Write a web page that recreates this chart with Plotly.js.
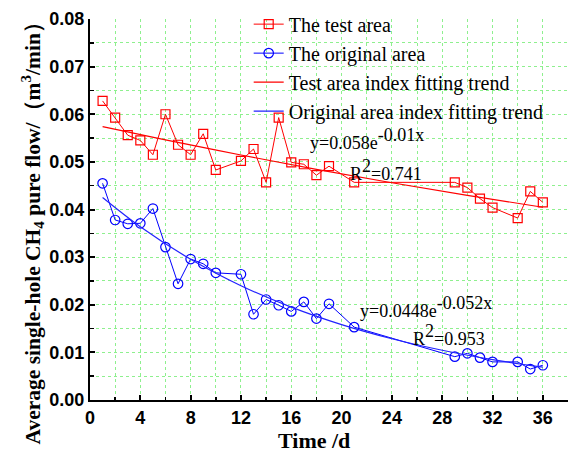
<!DOCTYPE html>
<html>
<head>
<meta charset="utf-8">
<script src="https://cdn.plot.ly/plotly-3.0.1.min.js"></script>
<style>html,body{margin:0;padding:0;background:#fff;}#chart{width:574px;height:454px;}</style>
</head>
<body>
<div id="chart"></div>
<script>
// Measured data (Time /d)
const testDays = [1,2,3,4,5,6,7,8,9,10,12,13,14,15,16,17,18,19,21,29,30,31,32,34,35,36];
const testFlow = [0.0628,0.0593,0.0556,0.0545,0.0515,0.0600,0.0536,0.0515,0.0559,0.0483,0.0502,0.0527,0.0457,0.0593,0.0499,0.0495,0.0472,0.0491,0.0457,0.0457,0.0446,0.0423,0.0404,0.0382,0.0438,0.0415];

const origDays = [1,2,3,4,5,6,7,8,9,10,12,13,14,15,16,17,18,19,21,29,30,31,32,34,35,36];
const origFlow = [0.0455,0.0378,0.0370,0.0371,0.0402,0.0321,0.0244,0.0296,0.0286,0.0267,0.0264,0.0180,0.0211,0.0199,0.0186,0.0206,0.0171,0.0202,0.0153,0.0091,0.0098,0.0089,0.0080,0.0080,0.0065,0.0073];

// Fitting trend curves (values of the fitted exponentials shown on chart)
const testFitDays = [1,6,12,18,24,30,36];
const testFitFlow = [0.05742,0.05462,0.05144,0.04844,0.04562,0.04297,0.04047];
const origFitDays = [1,4,8,12,16,20,24,28,32,36];
const origFitFlow = [0.04253,0.03639,0.02955,0.02400,0.01950,0.01583,0.01286,0.01045,0.00848,0.00689];

const seriesNames = ["The test area","The original area","Test area index fitting trend","Original area index fitting trend"];
const xTicks = [0,4,8,12,16,20,24,28,32,36];
const yTicks = [0,0.01,0.02,0.03,0.04,0.05,0.06,0.07,0.08];
const xTitle = "Time /d";
const yTitle = "Average single-hole CH<sub>4</sub> pure flow/（m<sup>3</sup>/min）";

const serif = "Liberation Serif, Times New Roman, serif";
const sans = "Liberation Sans, Arial, sans-serif";

const traces = [
  {x: testDays, y: testFlow, name: seriesNames[0], mode: "lines+markers",
   line: {color: "#ff0000", width: 1},
   marker: {symbol: "square-open", size: 9, color: "#ff0000", line: {width: 1.2}}},
  {x: origDays, y: origFlow, name: seriesNames[1], mode: "lines+markers",
   line: {color: "#0000ff", width: 1},
   marker: {symbol: "circle-open", size: 9.5, color: "#0000ff", line: {width: 1.2}}},
  {x: testFitDays, y: testFitFlow, name: seriesNames[2], mode: "lines",
   line: {color: "#ff0000", width: 1.2, shape: "spline"}},
  {x: origFitDays, y: origFitFlow, name: seriesNames[3], mode: "lines",
   line: {color: "#2222ff", width: 1.2, shape: "spline"}}
];

const gridGreen = "#8ef08e";
const annFont = {family: serif, size: 18, color: "#000"};
const supSpan = s => "<sup><span style='font-size:18px'>" + s + "</span></sup>";

const layout = {
  width: 574, height: 454,
  margin: {l: 90, r: 6, t: 18, b: 54},
  paper_bgcolor: "#fff", plot_bgcolor: "#fff",
  showlegend: true,
  legend: {x: 0.332, y: 1.035, xanchor: "left", yanchor: "top",
           bgcolor: "rgba(0,0,0,0)", font: {family: serif, size: 20, color: "#000"},
           tracegroupgap: 0, itemwidth: 30},
  xaxis: {range: [0, 38], tickvals: xTicks, ticktext: xTicks.map(String),
          showline: true, linecolor: "#000", linewidth: 2,
          ticks: "inside", ticklen: 5, tickwidth: 2, tickcolor: "#000",
          showgrid: true, gridcolor: gridGreen, griddash: "dot", gridwidth: 1,
          minor: {dtick: 2, tick0: 0, ticks: "inside", ticklen: 3, tickwidth: 1.5, tickcolor: "#000",
                  showgrid: true, gridcolor: gridGreen, griddash: "dot", gridwidth: 1},
          zeroline: false,
          tickfont: {family: sans, size: 18, weight: "bold", color: "#000"}},
  yaxis: {range: [0, 0.08], tickvals: yTicks, ticktext: yTicks.map(v => v.toFixed(2)),
          showline: true, linecolor: "#000", linewidth: 2,
          ticks: "inside", ticklen: 5, tickwidth: 2, tickcolor: "#000",
          showgrid: true, gridcolor: gridGreen, griddash: "dot", gridwidth: 1,
          minor: {dtick: 0.005, tick0: 0, ticks: "inside", ticklen: 4, tickwidth: 1.5, tickcolor: "#000",
                  showgrid: true, gridcolor: gridGreen, griddash: "dot", gridwidth: 1},
          zeroline: false,
          tickfont: {family: sans, size: 18, weight: "bold", color: "#000"}},
  annotations: [
    {x: 17.3, y: 0.0549, xref: "x", yref: "y", xanchor: "left", yanchor: "middle", showarrow: false,
     text: "y=0.058e" + supSpan("-0.01x"), font: annFont},
    {x: 20.5, y: 0.0484, xref: "x", yref: "y", xanchor: "left", yanchor: "middle", showarrow: false,
     text: "R" + supSpan("2") + "=0.741", font: annFont},
    {x: 21.3, y: 0.0196, xref: "x", yref: "y", xanchor: "left", yanchor: "middle", showarrow: false,
     text: "y=0.0448e" + supSpan("-0.052x"), font: annFont},
    {x: 25.55, y: 0.0136, xref: "x", yref: "y", xanchor: "left", yanchor: "middle", showarrow: false,
     text: "R" + supSpan("2") + "=0.953", font: annFont},
    // axis titles
    {x: (314 - 90) / 478, y: -(441 - 400) / 382, xref: "paper", yref: "paper", xanchor: "center", yanchor: "middle",
     showarrow: false, text: xTitle, font: {family: serif, size: 22, weight: "bold", color: "#000"}},
    {x: (33 - 90) / 478, y: (400 - 228) / 382, xref: "paper", yref: "paper", xanchor: "center", yanchor: "middle",
     showarrow: false, textangle: -90, text: yTitle, font: {family: serif, size: 21.5, weight: "bold", color: "#000"}}
  ]
};

Plotly.newPlot("chart", traces, layout, {displayModeBar: false, staticPlot: true});
</script>
</body>
</html>
